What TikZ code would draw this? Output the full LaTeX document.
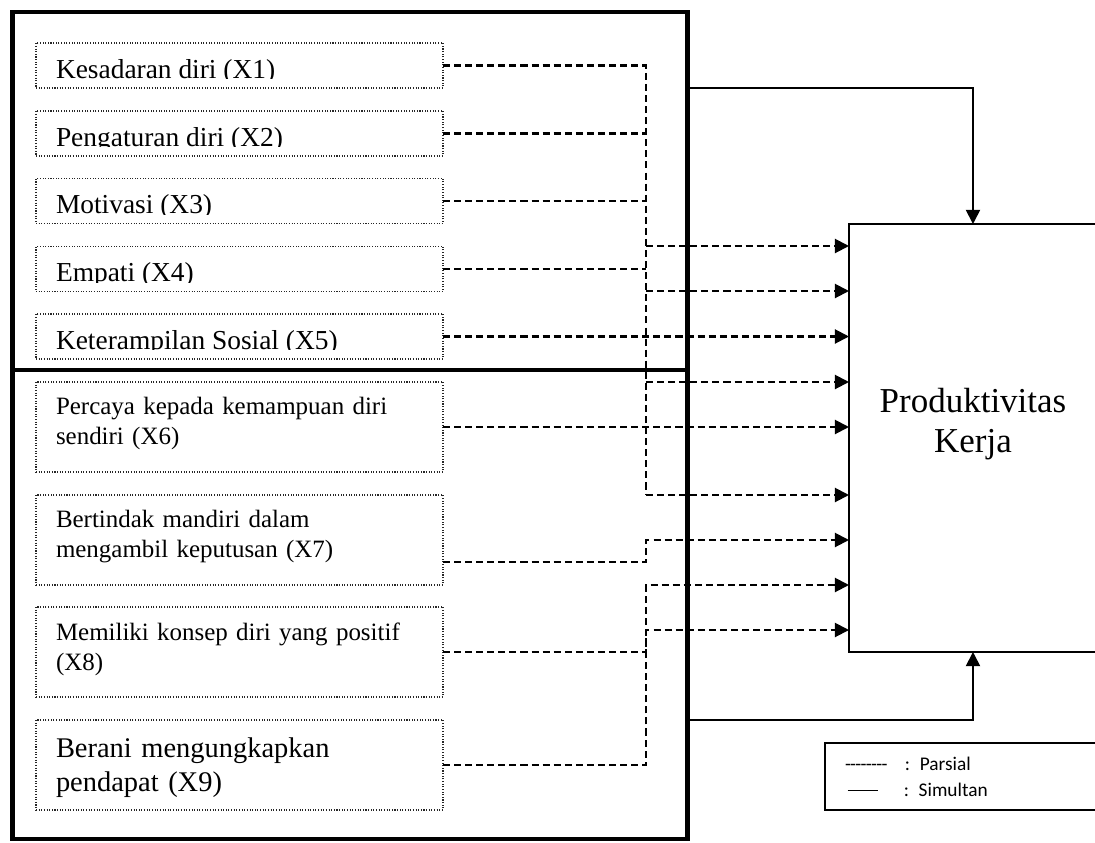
\documentclass[tikz,border=0pt]{standalone}
\usepackage{fontspec}
\setmainfont{Liberation Serif}
\newfontfamily\legendfont{Carlito}
\usepackage{tikz}
\usetikzlibrary{arrows.meta}
\usetikzlibrary{positioning,calc}

\newcommand\dashrow{-\kern-0.4pt-\kern-0.4pt-\kern-0.4pt-\kern-0.4pt-\kern-0.4pt-\kern-0.4pt-\kern-0.4pt-}

\begin{document}
\begin{tikzpicture}[scale=0.2]
\tikzstyle{every node}+=[inner sep=0pt, outer sep=0pt]
\tikzstyle{grpframe}=[draw, line width=2.7pt, minimum width=13.5cm]
\tikzstyle{varbox}=[draw=black!85, line width=0.6pt, dash pattern=on 0.6pt off 0.9pt, minimum width=8.14cm]
\tikzstyle{toptext}=[anchor=base west, font=\fontsize{15.6}{18.7}\selectfont]
\tikzstyle{bottext}=[anchor=base west, text width=7.6cm, align=left, font=\fontsize{14.2}{17.1}\selectfont]
\tikzstyle{parsial}=[line width=1.15pt, dash pattern=on 4pt off 2.3pt]
\tikzstyle{simultan}=[line width=1pt]
\tikzstyle{toprod}=[-{Triangle[length=8pt,width=8pt]}]
\useasboundingbox (0,0) rectangle (109.5,-84.2);
% kelompok variabel
\node[grpframe, minimum height=7.16cm] (grpA) at (35,-19.1) {};
\node[grpframe, minimum height=9.38cm] (grpB) at (35,-60.45) {};
% X1 - X5
\node[varbox, minimum height=0.9cm] (x1) at (23.95,-6.55) {};
\node[varbox, minimum height=0.9cm] (x2) at (23.95,-13.35) {};
\node[varbox, minimum height=0.9cm] (x3) at (23.95,-20.1) {};
\node[varbox, minimum height=0.9cm] (x4) at (23.95,-26.9) {};
\node[varbox, minimum height=0.9cm] (x5) at (23.95,-33.65) {};
\foreach \n/\y/\t in {1/6.55/{Kesadaran diri (X1)}, 2/13.35/{Pengaturan diri (X2)},
    3/20.1/{Motivasi (X3)}, 4/26.9/{Empati (X4)}, 5/33.65/{Keterampilan Sosial (X5)}} {
  \begin{scope}
  \clip (3.6,-\y+2.25) rectangle (44.3,-\y-1.32);
  \node[toptext] (t\n) at (5.6,-\y-1.25) {\t};
  \end{scope}
}
% X6 - X9
\node[varbox, minimum height=1.8cm] (x6) at (23.95,-42.7) {};
\node[varbox, minimum height=1.8cm] (x7) at (23.95,-54.0) {};
\node[varbox, minimum height=1.8cm] (x8) at (23.95,-65.2) {};
\node[varbox, minimum height=1.8cm] (x9) at (23.95,-76.5) {};
\node[bottext] (t6) at (5.6,-41.4) {Percaya kepada kemampuan diri\\ sendiri (X6)};
\node[bottext] (t7) at (5.6,-52.7) {Bertindak mandiri dalam\\ mengambil keputusan (X7)};
\node[bottext] (t8) at (5.6,-64.0) {Memiliki konsep diri yang positif\\ (X8)};
\node[bottext, font=\fontsize{16.2}{19.9}\selectfont] (t9) at (5.6,-75.7) {Berani mengungkapkan\\ pendapat (X9)};
% variabel Y
\node[draw, line width=1pt, minimum width=4.96cm, minimum height=8.56cm] (prod) at (97.3,-43.8) {};
\node[anchor=base, text width=5cm, align=center, font=\fontsize{19.9}{23.3}\selectfont] (ptext) at (97.3,-41.2) {Produktivitas\\ Kerja};
% keterangan
\node[draw, line width=0.9pt, minimum width=5.9cm, minimum height=1.34cm] (legend) at (97.25,-77.65) {};
\node[anchor=base west, text width=4.5cm, align=left, font=\legendfont\fontsize{11}{14.8}\selectfont] (ltext) at (84.5,-77.0)
  {\dashrow\hspace{10pt}: Parsial\\ \hspace{1.5pt}\rule[2.6pt]{17pt}{0.6pt}\hspace{15pt}: Simultan};
% parsial
\coordinate (bus) at (64.6,-6.55);
\draw[parsial] (x1.east) -| (bus |- 0,-49.5);
\foreach \n in {2,3,4}
  \draw[parsial] (x\n.east) -- (x\n.east -| bus);
\foreach \y in {24.6,29.1,38.2,49.5}
  \draw[parsial,toprod] (bus |- 0,-\y) -- (prod.west |- 0,-\y);
\draw[parsial,toprod] (x5.east) -- (prod.west |- x5.east);
\draw[parsial,toprod] (x6.east) -- (prod.west |- x6.east);
\draw[parsial,toprod] ($(x7.east)+(0,-2.2)$) -| (bus |- 0,-54.0) -- (prod.west |- 0,-54.0);
\draw[parsial,toprod] (x9.east) -| (bus |- 0,-58.5) -- (prod.west |- 0,-58.5);
\draw[parsial,toprod] (x8.east) -| (bus |- 0,-63.0) -- (prod.west |- 0,-63.0);
% simultan
\coordinate (sA) at (grpA.east |- 0,-8.83);
\coordinate (sB) at (grpB.east |- 0,-72.0);
\draw[simultan,toprod] (sA) -| (prod.north);
\draw[simultan,toprod] (sB) -| (prod.south);
\end{tikzpicture}
\end{document}
